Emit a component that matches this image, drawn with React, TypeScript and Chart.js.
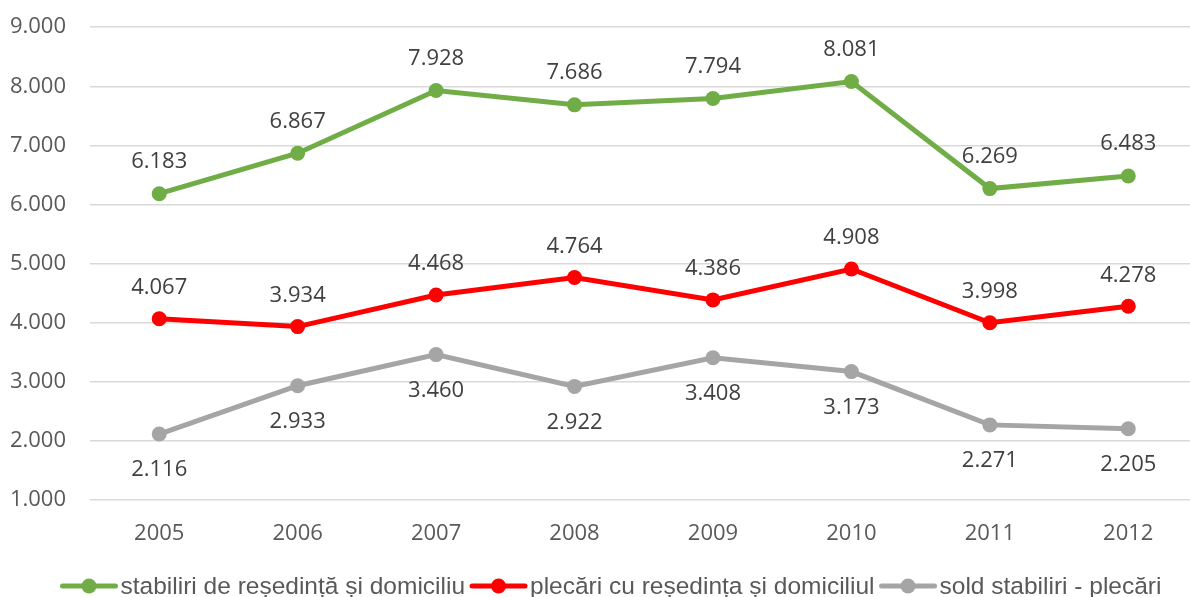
import React, { useEffect, useRef } from "react";
import { Chart, registerables } from "chart.js";

Chart.register(...registerables);

const years = ["2005", "2006", "2007", "2008", "2009", "2010", "2011", "2012"];
const stabiliri = [6183, 6867, 7928, 7686, 7794, 8081, 6269, 6483];
const plecari = [4067, 3934, 4468, 4764, 4386, 4908, 3998, 4278];
const sold = [2116, 2933, 3460, 2922, 3408, 3173, 2271, 2205];
const seriesNames = [
  "stabiliri de reședință și domiciliu",
  "plecări cu reședința și domiciliul",
  "sold stabiliri - plecări",
];
const seriesColors = ["#70AD47", "#FF0000", "#A5A5A5"];
const labelOffsets = [-32, -31, 36];
const SHIFT = 10;

const fmt = (v: number) => {
  const s = Math.round(v).toString();
  return s.length > 3 ? s.slice(0, s.length - 3) + "." + s.slice(-3) : s;
};

const dataLabelPlugin = {
  id: "dataLabels",
  afterDatasetsDraw(chart: any) {
    const ctx = chart.ctx;
    ctx.save();
    ctx.font = "22px 'Open Sans'";
    ctx.fillStyle = "#404040";
    ctx.textAlign = "center";
    ctx.textBaseline = "middle";
    chart.data.datasets.forEach((ds: any, i: number) => {
      const meta = chart.getDatasetMeta(i);
      meta.data.forEach((pt: any, j: number) => {
        ctx.fillText(fmt(ds.data[j]), pt.x, pt.y + labelOffsets[i]);
      });
    });
    ctx.restore();
  },
};

const legendPlugin = {
  id: "customLegend",
  afterDraw(chart: any) {
    const ctx = chart.ctx;
    ctx.save();
    ctx.font = "24.5px 'Liberation Sans'";
    const lineW = 57;
    const gapText = 3;
    const gapItem = 5;
    const widths = seriesNames.map((n) => lineW + gapText + ctx.measureText(n).width);
    const total = widths.reduce((a, b) => a + b, 0) + gapItem * (widths.length - 1);
    let x = 611 - total / 2;
    const y = 586 + SHIFT;
    seriesNames.forEach((n, i) => {
      ctx.strokeStyle = seriesColors[i];
      ctx.lineWidth = 5;
      ctx.lineCap = "round";
      ctx.beginPath();
      ctx.moveTo(x + 2, y);
      ctx.lineTo(x + lineW - 2, y);
      ctx.stroke();
      ctx.fillStyle = seriesColors[i];
      ctx.beginPath();
      ctx.arc(x + lineW / 2, y, 7.5, 0, Math.PI * 2);
      ctx.fill();
      ctx.fillStyle = "#595959";
      ctx.textAlign = "left";
      ctx.textBaseline = "middle";
      ctx.fillText(n, x + lineW + gapText, y + 1);
      x += widths[i] + gapItem;
    });
    ctx.restore();
  },
};

export default function App() {
  const ref = useRef<HTMLCanvasElement>(null);
  useEffect(() => {
    document.body.style.margin = "0";
    document.body.style.overflow = "hidden";
    const all = [stabiliri, plecari, sold];
    const chart = new Chart(ref.current!, {
      type: "line",
      data: {
        labels: years,
        datasets: all.map((d, i) => ({
          label: seriesNames[i],
          data: d,
          borderColor: seriesColors[i],
          backgroundColor: seriesColors[i],
          borderWidth: 5,
          pointRadius: 7.5,
          pointHoverRadius: 7.5,
          pointBorderWidth: 0,
          tension: 0,
        })),
      },
      options: {
        responsive: false,
        animation: false,
        layout: { padding: { top: 16, bottom: 47, left: 0, right: 0 } },
        plugins: {
          legend: { display: false },
          tooltip: { enabled: false },
        },
        scales: {
          x: {
            offset: true,
            grid: { display: false, drawTicks: false },
            border: { display: false },
            ticks: {
              color: "#595959",
              font: { family: "'Open Sans'", size: 22 },
              padding: 21,
              maxRotation: 0,
            },
            afterFit: (s: any) => {
              s.height = 50;
            },
          },
          y: {
            min: 1000,
            max: 9000,
            grid: { color: "#D9D9D9", lineWidth: 1.5, drawTicks: false },
            border: { display: false },
            ticks: {
              stepSize: 1000,
              color: "#595959",
              font: { family: "'Open Sans'", size: 22 },
              padding: 24,
              callback: (v: any) => fmt(Number(v)),
            },
            afterFit: (s: any) => {
              s.width = 90;
            },
          },
        },
      },
      plugins: [dataLabelPlugin, legendPlugin],
    });
    return () => chart.destroy();
  }, []);
  return (
    <div style={{ position: "fixed", left: 0, top: 0, width: 1190, height: 597, overflow: "hidden", background: "#fff" }}>
      <canvas
        ref={ref}
        width={1205}
        height={597 + SHIFT}
        style={{ display: "block", marginTop: -SHIFT }}
      />
    </div>
  );
}
